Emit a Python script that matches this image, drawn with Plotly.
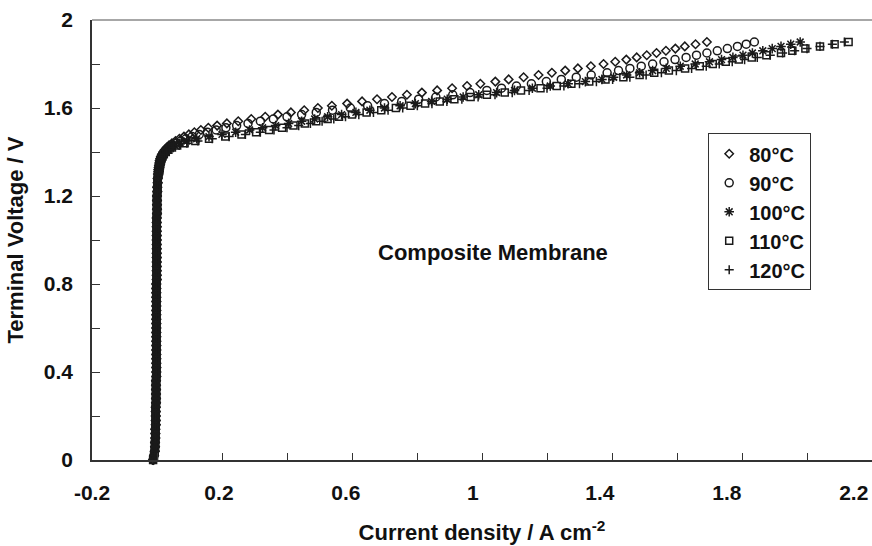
import plotly.graph_objects as go

# Polarisation curves of the composite-membrane electrolyser cell.
# Onset region (shared by all temperatures, the curves coincide there)
v_onset = [0.00, 0.02, 0.04, 0.06, 0.08, 0.10, 0.12, 0.14, 0.16, 0.18,
           0.20, 0.22, 0.24, 0.26, 0.28, 0.30, 0.32, 0.34, 0.36, 0.38,
           0.40, 0.42, 0.44, 0.46, 0.48, 0.50, 0.52, 0.54, 0.56, 0.58,
           0.60, 0.62, 0.64, 0.66, 0.68, 0.70, 0.72, 0.74, 0.76, 0.78,
           0.80, 0.82, 0.84, 0.86, 0.88, 0.90, 0.92, 0.94, 0.96, 0.98,
           1.00, 1.02, 1.04, 1.06, 1.08, 1.10, 1.12, 1.14, 1.16, 1.18,
           1.20, 1.22, 1.24, 1.26, 1.28]
i_onset = [-0.012, -0.009, -0.007, -0.006, -0.006, -0.005, -0.005, -0.005, -0.004, -0.004,
           -0.004, -0.004, -0.004, -0.003, -0.003, -0.003, -0.003, -0.003, -0.003, -0.002,
           -0.002, -0.002, -0.002, -0.002, -0.002, -0.002, -0.002, -0.002, -0.002, -0.002,
           -0.002, -0.002, -0.002, -0.002, -0.002, -0.002, -0.002, -0.002, -0.002, -0.002,
           -0.002, -0.001, -0.001, -0.001, -0.001, -0.001, -0.001, -0.001, -0.001, -0.001,
           -0.001, -0.001, -0.001, -0.001, -0.001, -0.001, 0.000, 0.000, 0.000, 0.000,
           0.000, 0.001, 0.001, 0.002, 0.002]

# Sweep above 1.3 V, 10 mV per point
v_sweep = [1.30, 1.31, 1.32, 1.33, 1.34, 1.35, 1.36, 1.37, 1.38, 1.39,
           1.40, 1.41, 1.42, 1.43, 1.44, 1.45, 1.46, 1.47, 1.48, 1.49,
           1.50, 1.51, 1.52, 1.53, 1.54, 1.55, 1.56, 1.57, 1.58, 1.59,
           1.60, 1.61, 1.62, 1.63, 1.64, 1.65, 1.66, 1.67, 1.68, 1.69,
           1.70, 1.71, 1.72, 1.73, 1.74, 1.75, 1.76, 1.77, 1.78, 1.79,
           1.80, 1.81, 1.82, 1.83, 1.84, 1.85, 1.86, 1.87, 1.88, 1.89,
           1.90]

# Current density (A cm-2) at each sweep voltage
i_80 = [0.003, 0.004, 0.004, 0.005, 0.006, 0.007, 0.008, 0.010, 0.012, 0.015,
        0.019, 0.024, 0.030, 0.037, 0.046, 0.057, 0.069, 0.083, 0.098, 0.115,
        0.135, 0.158, 0.185, 0.215, 0.250, 0.290, 0.333, 0.372, 0.412, 0.453,
        0.495, 0.538, 0.585, 0.631, 0.677, 0.723, 0.769, 0.815, 0.862, 0.908,
        0.954, 0.995, 1.041, 1.082, 1.128, 1.174, 1.215, 1.256, 1.295, 1.335,
        1.374, 1.410, 1.444, 1.476, 1.507, 1.537, 1.566, 1.595, 1.624, 1.657,
        1.692]
i_90 = [0.004, 0.004, 0.005, 0.006, 0.007, 0.008, 0.009, 0.011, 0.014, 0.018,
        0.023, 0.029, 0.037, 0.047, 0.059, 0.073, 0.089, 0.108, 0.130, 0.155,
        0.182, 0.212, 0.245, 0.280, 0.318, 0.358, 0.400, 0.445, 0.490, 0.540,
        0.595, 0.648, 0.700, 0.753, 0.805, 0.858, 0.910, 0.963, 1.015, 1.060,
        1.106, 1.152, 1.198, 1.244, 1.290, 1.336, 1.385, 1.420, 1.455, 1.490,
        1.525, 1.560, 1.594, 1.628, 1.660, 1.692, 1.724, 1.755, 1.786, 1.813,
        1.838]
i_100 = [0.005, 0.006, 0.007, 0.008, 0.009, 0.010, 0.012, 0.014, 0.017, 0.021,
         0.026, 0.033, 0.042, 0.054, 0.070, 0.092, 0.122, 0.160, 0.200, 0.242,
         0.285, 0.325, 0.365, 0.405, 0.445, 0.485, 0.525, 0.568, 0.612, 0.655,
         0.700, 0.748, 0.795, 0.845, 0.893, 0.942, 0.990, 1.045, 1.100, 1.155,
         1.210, 1.265, 1.318, 1.369, 1.405, 1.445, 1.485, 1.525, 1.567, 1.610,
         1.656, 1.700, 1.737, 1.772, 1.803, 1.832, 1.864, 1.893, 1.920, 1.950,
         1.979]
i_110 = [0.005, 0.006, 0.007, 0.008, 0.009, 0.010, 0.012, 0.014, 0.017, 0.021,
         0.027, 0.035, 0.046, 0.062, 0.085, 0.118, 0.160, 0.210, 0.260, 0.305,
         0.345, 0.385, 0.420, 0.455, 0.490, 0.525, 0.560, 0.600, 0.645, 0.690,
         0.735, 0.780, 0.825, 0.870, 0.915, 0.965, 1.015, 1.070, 1.120, 1.180,
         1.230, 1.275, 1.330, 1.380, 1.435, 1.485, 1.530, 1.575, 1.625, 1.670,
         1.710, 1.750, 1.790, 1.830, 1.875, 1.920, 1.955, 1.995, 2.040, 2.085,
         2.128]
i_120 = [0.005, 0.006, 0.007, 0.008, 0.009, 0.011, 0.013, 0.015, 0.018, 0.023,
         0.029, 0.038, 0.050, 0.068, 0.092, 0.126, 0.170, 0.222, 0.272, 0.318,
         0.360, 0.400, 0.436, 0.472, 0.508, 0.544, 0.580, 0.621, 0.666, 0.711,
         0.756, 0.801, 0.846, 0.892, 0.938, 0.988, 1.040, 1.093, 1.145, 1.200,
         1.252, 1.300, 1.352, 1.402, 1.455, 1.505, 1.552, 1.598, 1.645, 1.690,
         1.730, 1.770, 1.808, 1.847, 1.887, 1.925, 1.962, 2.000, 2.040, 2.078,
         2.115]

series_names = ["80°C", "90°C", "100°C", "110°C", "120°C"]
series_currents = [i_80, i_90, i_100, i_110, i_120]
series_symbols = ["diamond-open", "circle-open", "asterisk-open", "square-open", "cross-thin-open"]
series_sizes = [6.5, 8, 8, 7, 6.5]

x_tick_marks = [-0.2, 0.0, 0.2, 0.4, 0.6, 0.8, 1.0, 1.2, 1.4, 1.6, 1.8, 2.0, 2.2]
x_tick_labels = [-0.2, 0.2, 0.6, 1.0, 1.4, 1.8, 2.2]
x_tick_text = ["-0.2", "0.2", "0.6", "1", "1.4", "1.8", "2.2"]
y_tick_labels = [0.0, 0.4, 0.8, 1.2, 1.6, 2.0]
y_tick_text = ["0", "0.4", "0.8", "1.2", "1.6", "2"]
y_minor_ticks = [0.2, 0.6, 1.0, 1.4, 1.8]

FONT = "Liberation Sans, Arial, Helvetica, sans-serif"
INK = "#1a1a1a"
TEXT = dict(family=FONT, size=21, color="#111", weight="bold")

fig = go.Figure()
for name, cur, sym, size in zip(series_names, series_currents, series_symbols, series_sizes):
    fig.add_trace(go.Scatter(
        x=i_onset + cur,
        y=v_onset + v_sweep,
        mode="markers",
        name=name,
        cliponaxis=False,
        marker=dict(symbol=sym, size=size, color=INK,
                    line=dict(color=INK, width=1.5)),
    ))

# empty trace that brings the label axis into the figure
fig.add_trace(go.Scatter(x=[], y=[], xaxis="x2", yaxis="y",
                         showlegend=False, hoverinfo="skip"))

fig.update_layout(
    width=872, height=546,
    margin=dict(l=92, r=0, t=20, b=86),
    paper_bgcolor="white", plot_bgcolor="white",
    font=TEXT,
    xaxis=dict(
        range=[-0.2, 2.2], tickmode="array", tickvals=x_tick_marks,
        showticklabels=False, ticks="inside", ticklen=7, tickwidth=1.3,
        tickcolor="#333", showline=True, linecolor="#333", linewidth=1.6,
        showgrid=False, zeroline=False,
    ),
    # tick labels sit on their own overlaid axis
    xaxis2=dict(
        overlaying="x", anchor="y", side="bottom",
        range=[-0.2, 2.2575], tickmode="array", tickvals=x_tick_labels,
        ticktext=x_tick_text, ticks="", showline=False, showgrid=False,
        zeroline=False, ticklabelstandoff=18, tickfont=TEXT,
        title=dict(text="Current density / A cm<sup>-2</sup>", standoff=21,
                   font=dict(TEXT, size=22)),
    ),
    yaxis=dict(
        range=[0, 2], tickmode="array", tickvals=y_tick_labels, ticktext=y_tick_text,
        ticks="inside", ticklen=8, tickwidth=1.3, tickcolor="#333",
        minor=dict(tickmode="array", tickvals=y_minor_ticks, ticks="inside",
                   ticklen=8, tickwidth=1.3, tickcolor="#333", showgrid=False),
        showline=True, linecolor="#333", linewidth=1.6,
        showgrid=False, zeroline=False, ticklabelstandoff=13, tickfont=TEXT,
        title=dict(text="Terminal Voltage / V", standoff=14, font=dict(TEXT, size=22)),
    ),
    legend=dict(
        x=0.79, y=0.7425, xanchor="left", yanchor="top",
        bordercolor="#333", borderwidth=1, bgcolor="white",
        itemwidth=30, tracegroupgap=0,
        font=dict(TEXT, size=20),
    ),
    shapes=[dict(type="line", xref="paper", yref="paper", x0=0, x1=1, y0=1, y1=1,
                 line=dict(color="#8a8a8a", width=1.5))],
    annotations=[dict(text="Composite Membrane", xref="paper", yref="paper",
                      x=0.5147, y=0.4727, showarrow=False,
                      font=dict(TEXT, size=22))],
)

fig.write_html("out.html")
